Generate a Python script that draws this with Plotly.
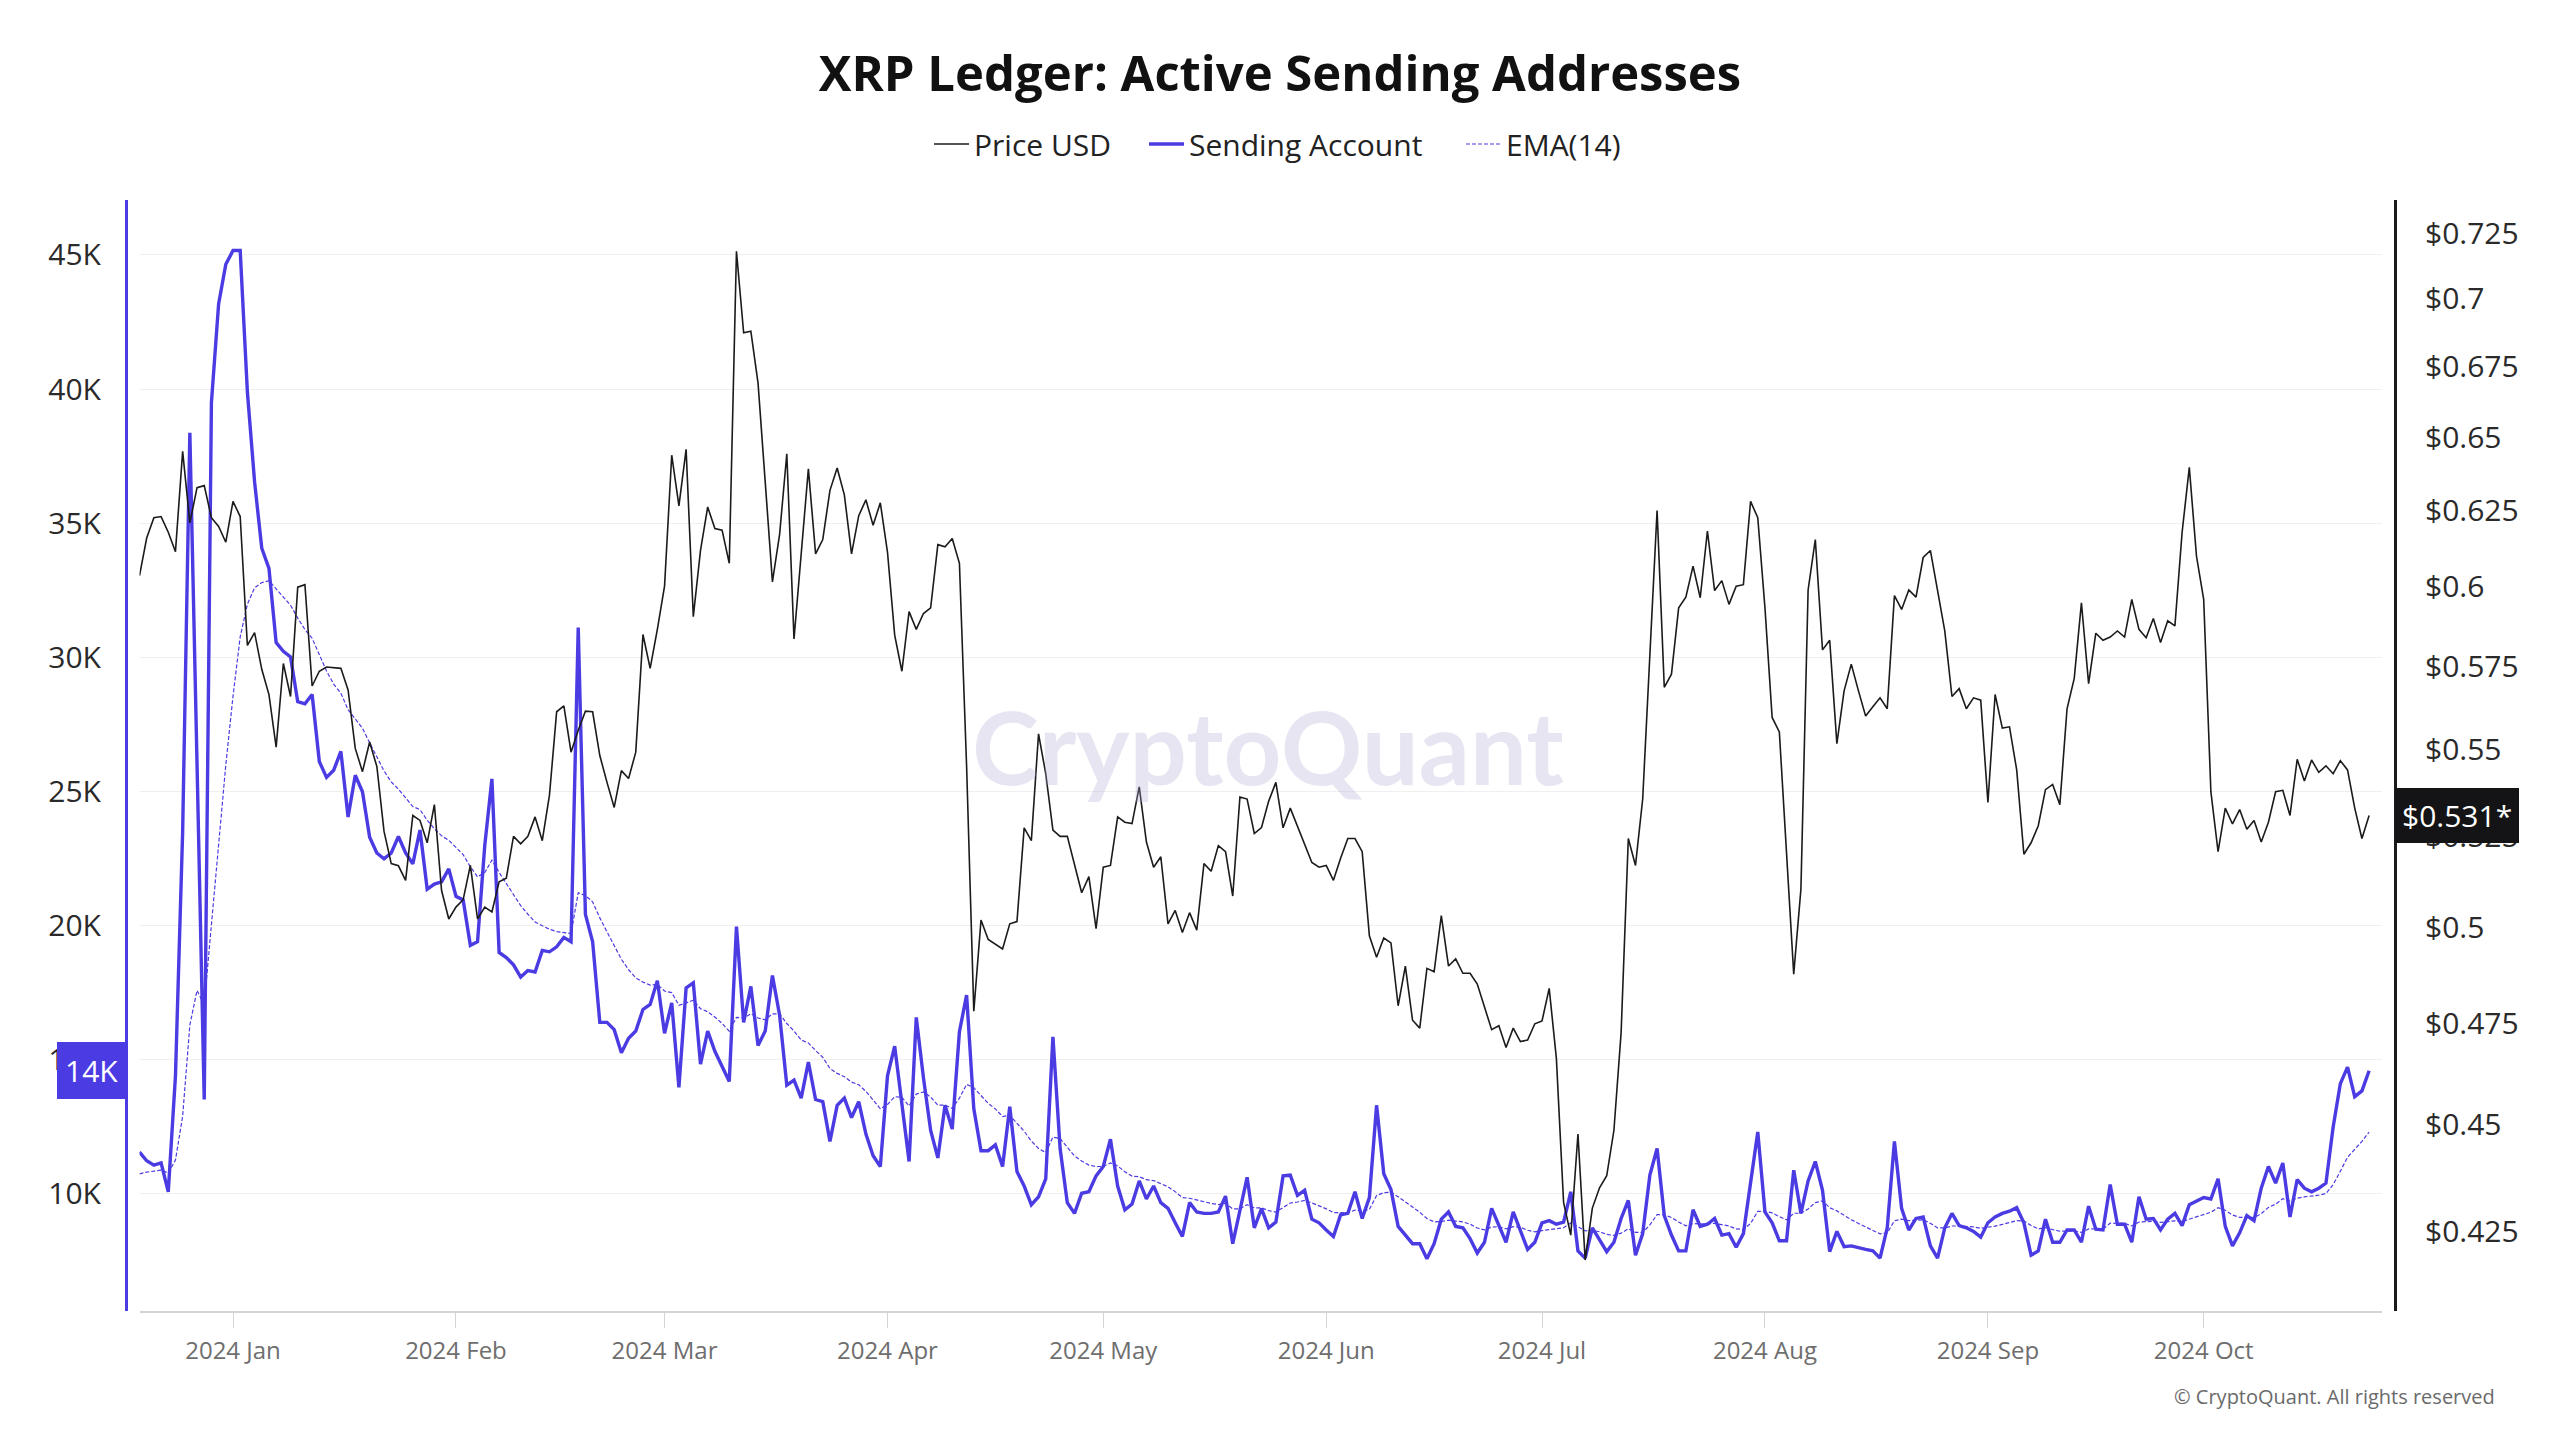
import math
import pandas as pd
import plotly.graph_objects as go

# ---------------- data ----------------
START_DATE = "2023-12-19"

sending_accounts = [
    11557, 11234, 11073, 11154, 10079, 14400, 23500, 38365, 26000, 13518,
    39493, 43173, 44651, 45161, 45161, 39896, 36538, 34067, 33315, 30548,
    30226, 30011, 28346, 28265, 28614, 26116, 25525, 25794, 26492, 24048,
    25606, 24988, 23295, 22705, 22490, 22705, 23322, 22705, 22302, 23564,
    21361, 21549, 21630, 22114, 21093, 20959, 19266, 19400, 22973, 25471,
    18998, 18810, 18541, 18084, 18326, 18272, 19078, 19024, 19212, 19562,
    19400, 31112, 20421, 19400, 16392, 16392, 16123, 15264, 15801, 16070,
    16875, 17064, 17950, 15989, 17117, 13974, 17681, 17869, 14834, 16070,
    15317, 14780, 14189, 19965, 16392, 17735, 15532, 16070, 18138, 16661,
    14055, 14243, 13571, 14915, 13518, 13437, 11960, 13303, 13571, 12846,
    13437, 12228, 11422, 11020, 14400, 15506, 13437, 11208, 16580, 14324,
    12363, 11342, 13303, 12415, 16043, 17413, 13169, 11611, 11611, 11825,
    11020, 13249, 10832, 10294, 9596, 9892, 10563, 15855, 11691, 9676,
    9274, 10026, 10080, 10671, 11020, 12040, 10294, 9408, 9623, 10482,
    9812, 10294, 9676, 9462, 8924, 8414, 9676, 9327, 9274, 9274,
    9327, 9918, 8145, 9408, 10617, 8736, 9450, 8736, 8951, 10671,
    10698, 9945, 10133, 9059, 8924, 8656, 8414, 9220, 9274, 10080,
    9086, 9865, 13303, 10751, 10160, 8790, 8467, 8145, 8145, 7581,
    8145, 9059, 9327, 8790, 8736, 8333, 7796, 8199, 9462, 8817,
    8199, 9327, 8602, 7930, 8199, 8924, 9005, 8871, 8951, 10080,
    7876, 7608, 8736, 8280, 7849, 8199, 9086, 9758, 7716, 8521,
    10700, 11691, 9193, 8467, 7876, 7876, 9408, 8790, 8871, 9086,
    8467, 8521, 8010, 8521, 10348, 12309, 9327, 8924, 8253, 8253,
    10885, 9274, 10482, 11208, 10133, 7849, 8602, 8037, 8064, 7983,
    7930, 7876, 7608, 8736, 11960, 9462, 8656, 9086, 9139, 8064,
    7608, 8736, 9274, 8817, 8736, 8602, 8387, 8924, 9139, 9274,
    9354, 9488, 8924, 7716, 7876, 9059, 8199, 8199, 8656, 8656,
    8199, 9542, 8683, 8656, 10348, 8871, 8871, 8199, 9892, 9059,
    9086, 8656, 9059, 9274, 8817, 9596, 9730, 9865, 9812, 10563,
    8790, 8064, 8548, 9193, 9005, 10214, 11020, 10402, 11154, 9139,
    10536, 10214, 10080, 10214, 10402, 12497, 14109, 14727, 13625, 13840,
    14592,
]

price_usd = [
    0.6036, 0.6159, 0.6226, 0.6230, 0.6178, 0.6114, 0.6451, 0.6209, 0.6327, 0.6334,
    0.6226, 0.6197, 0.6145, 0.6281, 0.6230, 0.5815, 0.5855, 0.5741, 0.5664, 0.5507,
    0.5759, 0.5658, 0.5999, 0.6007, 0.5690, 0.5735, 0.5748, 0.5746, 0.5744, 0.5678,
    0.5503, 0.5435, 0.5522, 0.5450, 0.5264, 0.5174, 0.5168, 0.5128, 0.5309, 0.5295,
    0.5232, 0.5340, 0.5100, 0.5023, 0.5055, 0.5075, 0.5169, 0.5023, 0.5055, 0.5042,
    0.5124, 0.5134, 0.5250, 0.5229, 0.5250, 0.5305, 0.5238, 0.5367, 0.5612, 0.5630,
    0.5492, 0.5557, 0.5614, 0.5612, 0.5482, 0.5404, 0.5332, 0.5438, 0.5415, 0.5492,
    0.5849, 0.5744, 0.5865, 0.6002, 0.6438, 0.6266, 0.6458, 0.5905, 0.6118, 0.6262,
    0.6190, 0.6185, 0.6076, 0.7180, 0.6874, 0.6880, 0.6691, 0.6346, 0.6016, 0.6171,
    0.6443, 0.5835, 0.6107, 0.6391, 0.6107, 0.6154, 0.6318, 0.6394, 0.6303, 0.6107,
    0.6233, 0.6286, 0.6201, 0.6276, 0.6112, 0.5847, 0.5735, 0.5921, 0.5865, 0.5915,
    0.5933, 0.6137, 0.6130, 0.6157, 0.6076, 0.5450, 0.4781, 0.5020, 0.4968, 0.4955,
    0.4943, 0.5010, 0.5016, 0.5274, 0.5238, 0.5546, 0.5429, 0.5268, 0.5250, 0.5250,
    0.5169, 0.5094, 0.5138, 0.4997, 0.5164, 0.5169, 0.5305, 0.5290, 0.5286, 0.5391,
    0.5234, 0.5164, 0.5193, 0.5010, 0.5046, 0.4987, 0.5040, 0.4993, 0.5174, 0.5153,
    0.5224, 0.5207, 0.5085, 0.5362, 0.5356, 0.5258, 0.5275, 0.5350, 0.5404, 0.5274,
    0.5330, 0.5280, 0.5228, 0.5177, 0.5164, 0.5169, 0.5128, 0.5189, 0.5244, 0.5244,
    0.5207, 0.4978, 0.4921, 0.4972, 0.4959, 0.4795, 0.4898, 0.4758, 0.4738, 0.4892,
    0.4883, 0.5032, 0.4898, 0.4917, 0.4879, 0.4879, 0.4851, 0.4790, 0.4734, 0.4744,
    0.4689, 0.4738, 0.4704, 0.4708, 0.4749, 0.4756, 0.4840, 0.4662, 0.4316, 0.4241,
    0.4477, 0.4185, 0.4303, 0.4350, 0.4378, 0.4486, 0.4726, 0.5244, 0.5169, 0.5356,
    0.5775, 0.6250, 0.5686, 0.5726, 0.5933, 0.5967, 0.6067, 0.5965, 0.6182, 0.5988,
    0.6020, 0.5944, 0.6002, 0.6007, 0.6281, 0.6226, 0.5933, 0.5595, 0.5552, 0.5214,
    0.4877, 0.5104, 0.5990, 0.6154, 0.5801, 0.5831, 0.5517, 0.5675, 0.5757, 0.5675,
    0.5599, 0.5627, 0.5654, 0.5621, 0.5972, 0.5928, 0.5990, 0.5967, 0.6095, 0.6118,
    0.5986, 0.5860, 0.5658, 0.5682, 0.5621, 0.5654, 0.5647, 0.5346, 0.5664, 0.5563,
    0.5567, 0.5440, 0.5200, 0.5232, 0.5280, 0.5383, 0.5398, 0.5340, 0.5621, 0.5713,
    0.5949, 0.5697, 0.5853, 0.5831, 0.5841, 0.5860, 0.5841, 0.5960, 0.5865, 0.5839,
    0.5899, 0.5824, 0.5892, 0.5876, 0.6178, 0.6396, 0.6099, 0.5960, 0.5377, 0.5207,
    0.5330, 0.5285, 0.5326, 0.5270, 0.5295, 0.5234, 0.5290, 0.5377, 0.5381, 0.5309,
    0.5471, 0.5408, 0.5469, 0.5433, 0.5452, 0.5429, 0.5467, 0.5440, 0.5330, 0.5244,
    0.5309,
]

EMA_SPAN = 14
EMA_START = 10750          # EMA level at the first date

left_tick_vals = [10000, 15000, 20000, 25000, 30000, 35000, 40000, 45000]
left_tick_text = ["10K", "15K", "20K", "25K", "30K", "35K", "40K", "45K"]
right_tick_vals = [0.425, 0.45, 0.475, 0.5, 0.525, 0.55, 0.575, 0.6, 0.625,
                   0.65, 0.675, 0.7, 0.725]
right_tick_text = ["$0.425", "$0.45", "$0.475", "$0.5", "$0.525", "$0.55",
                   "$0.575", "$0.6", "$0.625", "$0.65", "$0.675", "$0.7", "$0.725"]
month_ticks = ["2024-01-01", "2024-02-01", "2024-03-01", "2024-04-01", "2024-05-01",
               "2024-06-01", "2024-07-01", "2024-08-01", "2024-09-01", "2024-10-01"]

last_sending_label = "14K"
last_price_label = "$0.531*"

# ---------------- derived ----------------
dates = pd.date_range(START_DATE, periods=len(sending_accounts), freq="D")
alpha = 2.0 / (EMA_SPAN + 1)
ema = [float(EMA_START)]
for v in sending_accounts[1:]:
    ema.append(ema[-1] + alpha * (v - ema[-1]))

PURPLE = "#4b3be3"
BLACK = "#1b1b1b"
FONT = "Open Sans"

fig = go.Figure()
fig.add_trace(go.Scatter(
    x=dates, y=price_usd, name="Price USD", yaxis="y2", mode="lines",
    line=dict(color=BLACK, width=1.6), hoverinfo="skip", legend="legend"))
fig.add_trace(go.Scatter(
    x=dates, y=sending_accounts, name="Sending Account", yaxis="y", mode="lines",
    line=dict(color=PURPLE, width=3.4), hoverinfo="skip", legend="legend2"))
fig.add_trace(go.Scatter(
    x=dates, y=ema, name="EMA(14)", yaxis="y", mode="lines",
    line=dict(color=PURPLE, width=1.2, dash="4px,2px"), hoverinfo="skip", legend="legend3"))

W, H = 2560, 1440
L, R, T, B = 126, 165, 200, 129
paper_w = W - L - R
paper_h = H - T - B


def px_x(px):
    return (px - L) / paper_w


def px_y(py):
    return (H - B - py) / paper_h


legend_common = dict(orientation="h", xanchor="left", y=px_y(144), yanchor="middle",
                     font=dict(family=FONT, size=30, color="#222222"),
                     bgcolor="rgba(0,0,0,0)", borderwidth=0, itemwidth=35)

fig.update_layout(
    width=W, height=H,
    margin=dict(l=L, r=R, t=T, b=B, pad=0),
    paper_bgcolor="white", plot_bgcolor="white",
    font=dict(family=FONT, color="#222222"),
    showlegend=True,
    title=dict(text="<b>XRP Ledger: Active Sending Addresses</b>",
               font=dict(family=FONT, size=49, color="#111111"),
               x=0.5, xref="container", xanchor="center",
               y=1 - 74 / H, yref="container", yanchor="middle"),
    legend=dict(x=px_x(934 - 5), **legend_common),
    legend2=dict(x=px_x(1149 - 5), **legend_common),
    legend3=dict(x=px_x(1466 - 5), **legend_common),
    xaxis=dict(
        type="date",
        domain=[px_x(139.5), px_x(2382)],
        range=[dates[0], pd.Timestamp("2024-10-25 19:00")],
        tickvals=month_ticks, tickformat="%Y %b",
        tickfont=dict(family=FONT, size=24, color="#6e6e6e"),
        showgrid=False, zeroline=False,
        showline=True, linecolor="#d4d4d4", linewidth=2,
        ticks="outside", ticklen=15, tickcolor="#d4d4d4", tickwidth=1,
        ticklabelstandoff=2,
    ),
    yaxis=dict(
        anchor="free", position=0, side="left",
        range=[5636, 47046],
        tickvals=left_tick_vals, ticktext=left_tick_text,
        tickfont=dict(family=FONT, size=30, color="#2a2a2a"),
        showgrid=True, gridcolor="#efefef", gridwidth=1, zeroline=False,
        showline=True, linecolor=PURPLE, linewidth=3,
        ticks="outside", ticklen=18, tickcolor="rgba(0,0,0,0)",
    ),
    yaxis2=dict(
        anchor="free", position=1, side="right", overlaying="y",
        type="log", range=[-0.39015, -0.13194],
        tickvals=right_tick_vals, ticktext=right_tick_text,
        tickfont=dict(family=FONT, size=30, color="#2a2a2a"),
        showgrid=False, zeroline=False,
        showline=True, linecolor=BLACK, linewidth=3,
        ticks="outside", ticklen=22, tickcolor="rgba(0,0,0,0)",
    ),
)

annotations = [
    # watermark
    dict(text="CryptoQuant", xref="paper", yref="paper",
         x=px_x(1268), y=px_y(746),
         xanchor="center", yanchor="middle", showarrow=False,
         font=dict(family="Lato", size=101, color="rgba(175,170,210,0.30)", weight="bold")),
    # copyright
    dict(text="© CryptoQuant. All rights reserved", xref="paper", yref="paper",
         x=px_x(2497), y=px_y(1396),
         xanchor="right", yanchor="middle", showarrow=False,
         font=dict(family=FONT, size=20, color="#6a6a6a")),
    # last value of sending accounts
    dict(text=last_sending_label, xref="paper", yref="y",
         x=0, y=sending_accounts[-1], xanchor="right", yanchor="middle",
         showarrow=False, bgcolor=PURPLE, borderpad=8, borderwidth=0,
         font=dict(family=FONT, size=30, color="white")),
    # last value of price
    dict(text=last_price_label, xref="paper", yref="y2",
         x=1, y=math.log10(price_usd[-1]), xanchor="left", yanchor="middle",
         showarrow=False, bgcolor="#141416", borderpad=7, borderwidth=0,
         font=dict(family=FONT, size=30, color="white")),
]
fig.update_layout(annotations=annotations)

fig.write_html("out.html", config={"displayModeBar": False},
               post_script="document.body.style.margin='0';document.body.style.overflow='hidden';")
